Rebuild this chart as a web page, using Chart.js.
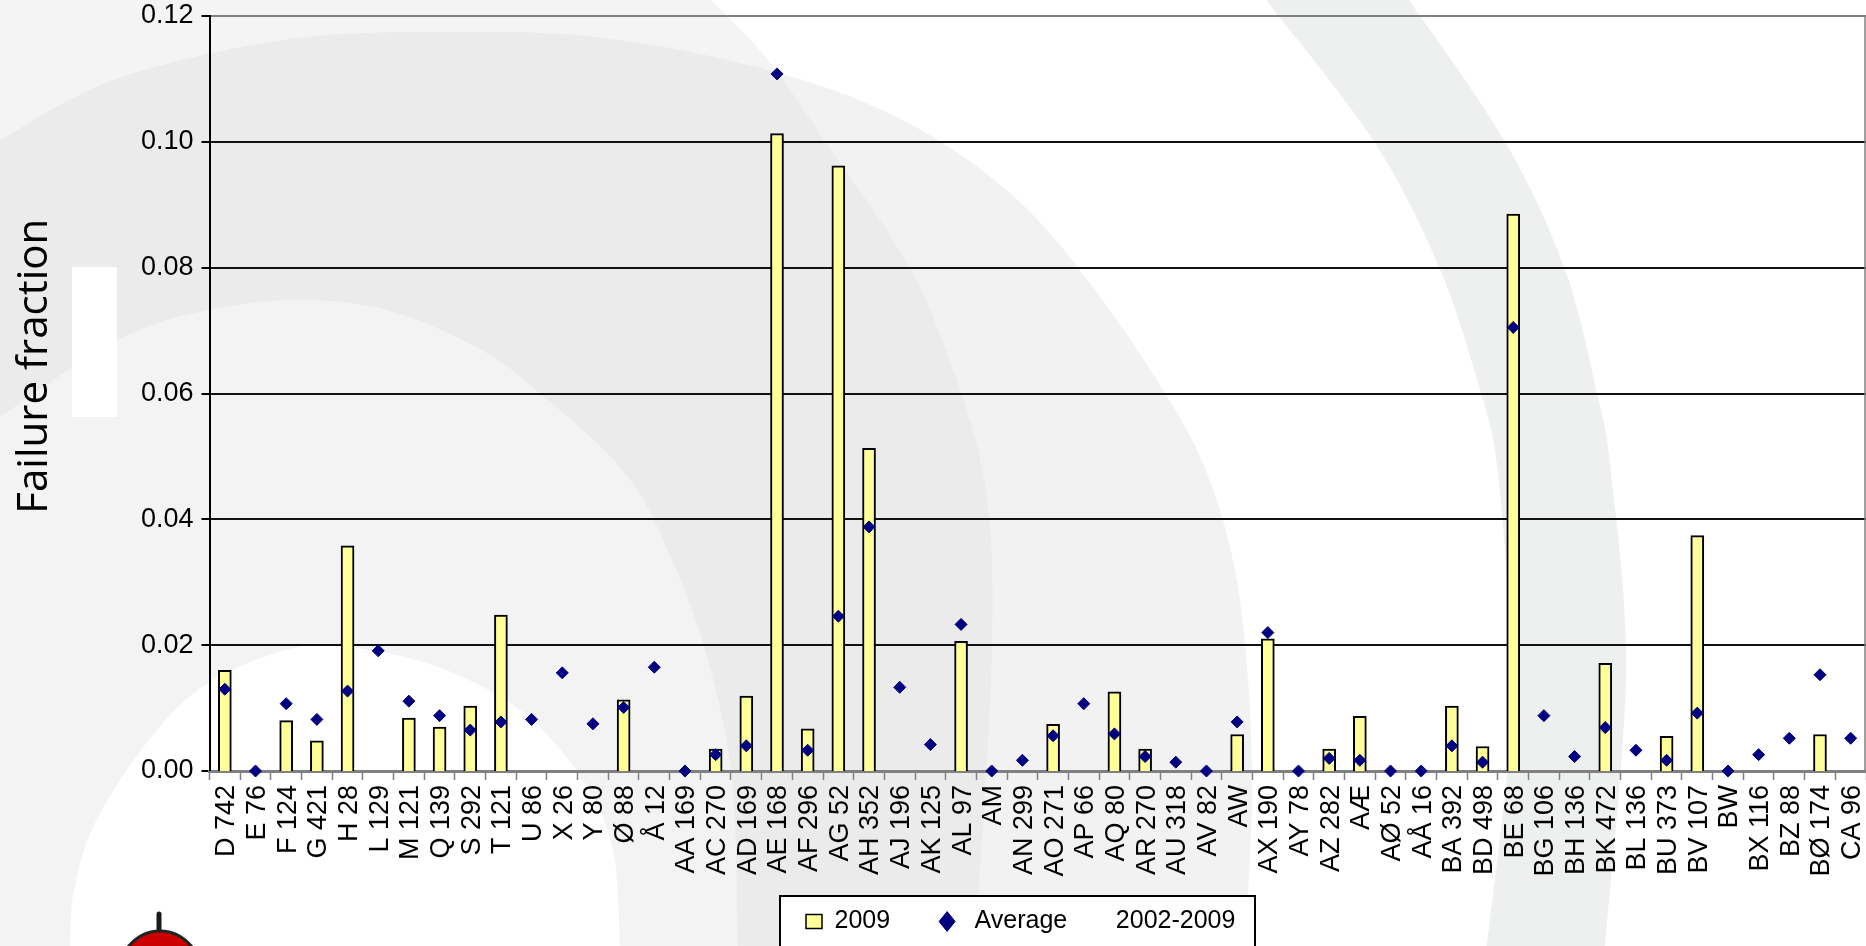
<!DOCTYPE html>
<html>
<head>
<meta charset="utf-8">
<script src="https://cdn.jsdelivr.net/npm/chart.js@4"></script>
<style>
html,body{margin:0;padding:0;background:#fff;overflow:hidden}
#wrap{position:relative;width:1866px;height:946px;overflow:hidden}
#bg{position:absolute;left:0;top:0}
#legendBox{position:absolute;left:779px;top:895px;width:477px;height:60px;background:#fff;border:2px solid #000;box-sizing:border-box}
#c{position:absolute;left:0;top:0}
</style>
</head>
<body>
<div id="wrap">
<svg id="bg" width="1866" height="946" xmlns="http://www.w3.org/2000/svg">
  <defs><clipPath id="clipE"><path id="pE2"/></clipPath></defs>
  <rect width="1866" height="946" fill="#fff"/>
  <path id="pL" fill="#f4f4f4"/>
  <path id="pE" fill="#f2f2f2"/>
  <path id="pLd" fill="#ebebeb" clip-path="url(#clipE)"/>
  <path id="pD" fill="#f3f3f3"/>
  <path id="pW" fill="#ffffff"/>
  <path id="pR" fill="#eef0ef"/>
  <rect x="72" y="267" width="45" height="150" fill="#fff"/>
  <line x1="159" y1="914" x2="159" y2="932" stroke="#1a1a1a" stroke-width="5" stroke-linecap="round"/>
  <ellipse cx="160" cy="985" rx="45" ry="54" fill="#cc0000" stroke="#222" stroke-width="3"/>
</svg>
<div id="legendBox"></div>
<canvas id="c" width="1866" height="946"></canvas>
</div>
<script>
const categories = ["D 742","E 76","F 124","G 421","H 28","L 129","M 121","Q 139","S 292","T 121","U 86","X 26","Y 80","Ø 88","Å 12","AA 169","AC 270","AD 169","AE 168","AF 296","AG 52","AH 352","AJ 196","AK 125","AL 97","AM","AN 299","AO 271","AP 66","AQ 80","AR 270","AU 318","AV 82","AW","AX 190","AY 78","AZ 282","AÆ","AØ 52","AÅ 16","BA 392","BD 498","BE 68","BG 106","BH 136","BK 472","BL 136","BU 373","BV 107","BW","BX 116","BZ 88","BØ 174","CA 96"];
const values2009 = [0.0160,null,0.0080,0.0048,0.0358,null,0.0084,0.0070,0.0103,0.0248,null,null,null,0.0113,null,null,0.0035,0.0119,0.1013,0.0067,0.0962,0.0513,null,null,0.0206,null,null,0.0074,null,0.0126,0.0035,null,null,0.0058,0.0210,null,0.0035,0.0087,null,null,0.0103,0.0039,0.0885,null,null,0.0171,null,0.0055,0.0374,null,null,null,0.0058,null];
const valuesAverage = [0.0130,0,0.0107,0.0082,0.0127,0.0191,0.0111,0.0088,0.0065,0.0078,0.0082,0.0156,0.0075,0.0101,0.0165,0,0.0026,0.0040,0.1108,0.0033,0.0246,0.0388,0.0133,0.0042,0.0233,0,0.0017,0.0056,0.0107,0.0059,0.0023,0.0014,0,0.0078,0.0220,0,0.0020,0.0017,0,0,0.0040,0.0014,0.0705,0.0088,0.0023,0.0069,0.0033,0.0017,0.0092,0,0.0026,0.0052,0.0153,0.0052];

// decorative page background traced as smooth curves
function spline(p){
  let d='';
  for(let i=0;i<p.length-1;i++){
    const a=p[Math.max(i-1,0)],b=p[i],c=p[i+1],e=p[Math.min(i+2,p.length-1)];
    d+=`C${b[0]+(c[0]-a[0])/6} ${b[1]+(c[1]-a[1])/6} ${c[0]-(e[0]-b[0])/6} ${c[1]-(e[1]-b[1])/6} ${c[0]} ${c[1]}`;
  }
  return d;
}
const curveL=[[711,0],[768,60],[833,153],[893,240],[933,317],[983,473],[992,650],[975,946]];
const curveE=[[0,140],[119,78],[298,38],[476,32],[595,37],[714,57],[833,90],[933,137],[1023,205],[1095,290],[1165,393],[1207,473],[1235,570],[1248,680],[1252,800],[1245,946]];
const curveD=[[0,417],[117,340],[208,310],[298,300],[387,310],[476,347],[536,390],[625,473],[672,560],[708,660],[732,780],[738,946]];
const curveW=[[70,946],[74,890],[95,823],[149,740],[208,683],[298,647],[369,650],[446,670],[524,713],[583,780],[613,850],[620,946]];
const ringA=[[1266,0],[1373,140],[1439,267],[1481,393],[1498,473],[1510,640],[1508,760],[1487,946]];
const ringB=[[1605,946],[1626,673],[1611,473],[1597,393],[1564,267],[1504,140],[1409,0]];
const set=(id,d)=>document.getElementById(id).setAttribute('d',d);
const dL=`M0 0L711 0${spline(curveL)}L0 946Z`;
const dE=`M0 140${spline(curveE)}L0 946Z`;
set('pL',dL); set('pLd',dL); set('pE',dE); set('pE2',dE);
set('pD',`M0 417${spline(curveD)}L0 946Z`);
set('pW',`M70 946${spline(curveW)}Z`);
set('pR',`M1266 0${spline(ringA)}L1605 946${spline(ringB)}Z`);

const frame={
  id:'frame',
  beforeLayout(chart){
    const l=chart.legend;
    if(l && !l._wrapped){
      const fit=l.fit;
      l.fit=function(){fit.call(this);this.height=55;};
      l._wrapped=true;
    }
  },
  afterDatasetsDraw(chart){
    const {ctx,chartArea:a}=chart;
    ctx.save();
    ctx.strokeStyle='#808080';ctx.lineWidth=1.5;
    ctx.beginPath();ctx.moveTo(a.right-1,a.top);ctx.lineTo(a.right-1,a.bottom);ctx.stroke();
    ctx.restore();
  },
  afterLayout(chart){
    const l=chart.legend;
    l.left=757;l.right=1300;l.top=860;l.bottom=980;
    // the plot runs right up to the edge of the page
    const a=chart.chartArea, x=chart.scales.x;
    a.right=1866; a.width=a.right-a.left;
    x.right=1866; x.width=x.right-x.left; x.configure();
  }
};

new Chart(document.getElementById('c'),{
  type:'bar',
  data:{labels:categories,datasets:[
    {type:'bar',label:'2009',data:values2009,backgroundColor:'#ffff99',borderColor:'#000',borderWidth:2,barThickness:13,order:2,pointStyle:'rect'},
    {type:'line',label:' Average       2002-2009',data:valuesAverage,showLine:false,clip:false,pointStyle:'rectRot',pointRadius:6,pointHoverRadius:6,pointBackgroundColor:'#000080',pointBorderColor:'#000080',pointBorderWidth:1,backgroundColor:'#000080',borderColor:'#000080',order:1}
  ]},
  plugins:[frame],
  options:{
    responsive:false,animation:false,
    layout:{padding:{left:0,right:0,top:16,bottom:0}},
    plugins:{
      tooltip:{enabled:false},
      legend:{display:true,position:'bottom',align:'start',
        labels:{usePointStyle:true,boxHeight:14,pointStyleWidth:16,padding:49,color:'#000',
          font:{family:'"Liberation Sans"',size:25},
          generateLabels(chart){
            return chart.data.datasets.map((d,i)=>({text:d.label,fillStyle:i?'#000080':'#ffff99',strokeStyle:i?'#000080':'#000',lineWidth:i?1:1.5,pointStyle:d.pointStyle,datasetIndex:i,hidden:false}));
          }}}
    },
    scales:{
      x:{
        afterFit(s){s.height=120;s.paddingLeft=0;s.paddingRight=0;},
        border:{color:'#808080',width:3},
        grid:{drawOnChartArea:false,drawTicks:true,tickLength:9,tickColor:'#808080',tickWidth:1.5,offset:true},
        ticks:{autoSkip:false,maxRotation:90,minRotation:90,color:'#000',padding:5,labelOffset:2,font:{family:'"Liberation Sans"',size:27}}
      },
      y:{
        min:0,max:0.12,
        afterFit(s){s.width=209.5;s.paddingTop=0;s.paddingBottom=0;},
        border:{color:'#000',width:2},
        grid:{color:c=>c.tick.value>0.119?'#808080':'#111',lineWidth:c=>c.tick.value===0?0:2,tickColor:'#000',tickLength:8,tickWidth:2},
        ticks:{stepSize:0.02,color:'#000',padding:8,callback:v=>v.toFixed(2),font:{family:'"Liberation Sans"',size:27}},
        title:{display:true,text:'     Failure fraction',color:'#000',padding:{top:10,bottom:0},font:{family:'"Open Sans"',size:42}}
      }
    }
  }
});
</script>
</body>
</html>
